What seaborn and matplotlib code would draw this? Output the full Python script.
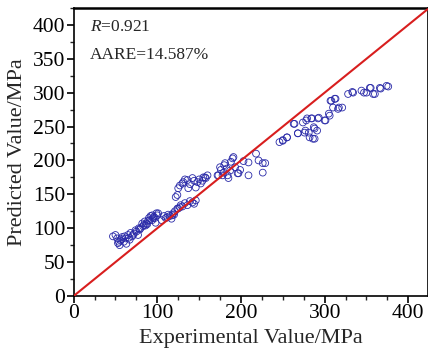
"""Predicted vs experimental stress scatter with y=x reference line."""

import matplotlib.pyplot as plt
import matplotlib.ticker as mticker
import pandas as pd
import seaborn as sns

# experimental / predicted values (MPa)
experimental = [
    47, 50, 52, 53, 55, 56, 58, 60, 62, 63, 65, 67, 68, 70, 72, 75, 77, 78, 80,
    82, 84, 85, 87, 88, 90, 92, 94, 95, 97, 99, 100, 101, 94, 98,
    54, 57, 61, 66, 71, 74, 79, 83, 86, 89, 91, 96,
    105, 110, 112, 115, 118, 119, 120, 124, 125, 128, 130, 136, 142, 146,
    108, 113, 117, 121, 127, 133, 139, 144,
    122, 124, 125, 130, 131, 136, 137, 142, 146, 148, 152, 155, 157, 160,
    127, 133, 139, 144, 150, 154, 158,
    172, 173, 175, 178, 179, 181, 184, 185, 187, 190, 191, 196, 197,
    176, 180, 183, 188, 193, 199, 203,
    209, 209, 218, 221, 226, 226, 229,
    246, 250, 250, 255, 255, 263, 264, 268, 268, 274, 276, 277, 278, 279,
    281, 282, 284, 285, 286, 287, 288, 288, 291, 292, 293, 300, 301, 305,
    306, 307, 308, 310, 312, 313, 316, 317, 321,
    328, 333, 334, 344, 347, 350, 354, 355, 358, 360, 366, 367, 374, 376,
]
predicted = [
    88, 90, 85, 78, 75, 82, 87, 80, 85, 77, 90, 83, 93, 88, 92, 95, 90, 100, 100,
    107, 105, 110, 107, 106, 115, 118, 112, 115, 115, 122, 119, 122, 119, 108,
    80, 84, 88, 86, 90, 97, 98, 103, 104, 111, 112, 117,
    112, 115, 116, 118, 119, 122, 120, 129, 129, 134, 132, 134, 138, 141,
    118, 120, 114, 125, 131, 137, 140, 136,
    146, 149, 159, 166, 168, 171, 159, 174, 160, 168, 166, 175, 175, 178,
    163, 172, 165, 170, 172, 170, 174,
    178, 178, 190, 178, 182, 196, 178, 174, 185, 203, 205, 181, 181,
    186, 193, 188, 198, 190, 186, 199,
    197, 178, 210, 200, 196, 182, 196,
    227, 229, 230, 234, 234, 254, 254, 240, 240, 256, 241, 244, 259, 262,
    241, 234, 262, 262, 232, 249, 247, 232, 244, 262, 263, 259, 259, 269,
    266, 288, 288, 278, 291, 291, 276, 278, 278,
    298, 301, 300, 303, 300, 300, 307, 307, 298, 298, 307, 306, 310, 309,
]
x_ticks = [0, 100, 200, 300, 400]
y_ticks = [0, 50, 100, 150, 200, 250, 300, 350, 400]
r_value = 0.921
aare_value = 14.587

df = pd.DataFrame({"Experimental": experimental, "Predicted": predicted})

sns.set_theme(style="ticks")
plt.rcParams["font.family"] = ["Liberation Serif", "DejaVu Serif"]
plt.rcParams["mathtext.fontset"] = "custom"
plt.rcParams["mathtext.it"] = "Liberation Serif:italic"
plt.rcParams["mathtext.rm"] = "Liberation Serif"

fig = plt.figure(figsize=(4.28, 3.59), dpi=100)
ax = fig.add_axes([0.172, 0.1755, 0.827, 0.8025])

sns.scatterplot(
    data=df, x="Experimental", y="Predicted", ax=ax,
    marker="o", s=24, facecolor="none", edgecolor="#2a2aa8", linewidth=0.6,
    zorder=3,
)
ax.axline((0, 0), slope=1, color="#d81e1e", linewidth=1.5, zorder=4)

ax.set_xlim(0, 423)
ax.set_ylim(0, 425)
ax.set_xticks(x_ticks)
ax.set_yticks(y_ticks)
ax.xaxis.set_minor_locator(mticker.MultipleLocator(25))
ax.yaxis.set_minor_locator(mticker.MultipleLocator(25))
ax.tick_params(which="major", direction="out", length=5, width=1.2,
               labelsize=15.5, colors="black", pad=1)
ax.tick_params(which="minor", direction="out", length=3, width=1.0)
for name, side in ax.spines.items():
    side.set_visible(True)
    side.set_color("black")
    side.set_linewidth(1.8 if name == "top" else 1.2)

ax.set_xlabel("Experimental Value/MPa", fontsize=16, labelpad=4)
ax.set_ylabel("Predicted Value/MPa", fontsize=16, labelpad=4)

ax.text(0.045, 0.935, rf"$R$={r_value}", transform=ax.transAxes,
        fontsize=12.5, va="center", ha="left")
ax.text(0.045, 0.835, f"AARE={aare_value}%", transform=ax.transAxes,
        fontsize=12.5, va="center", ha="left")

fig.savefig("out.png", dpi=100)
plt.close(fig)
